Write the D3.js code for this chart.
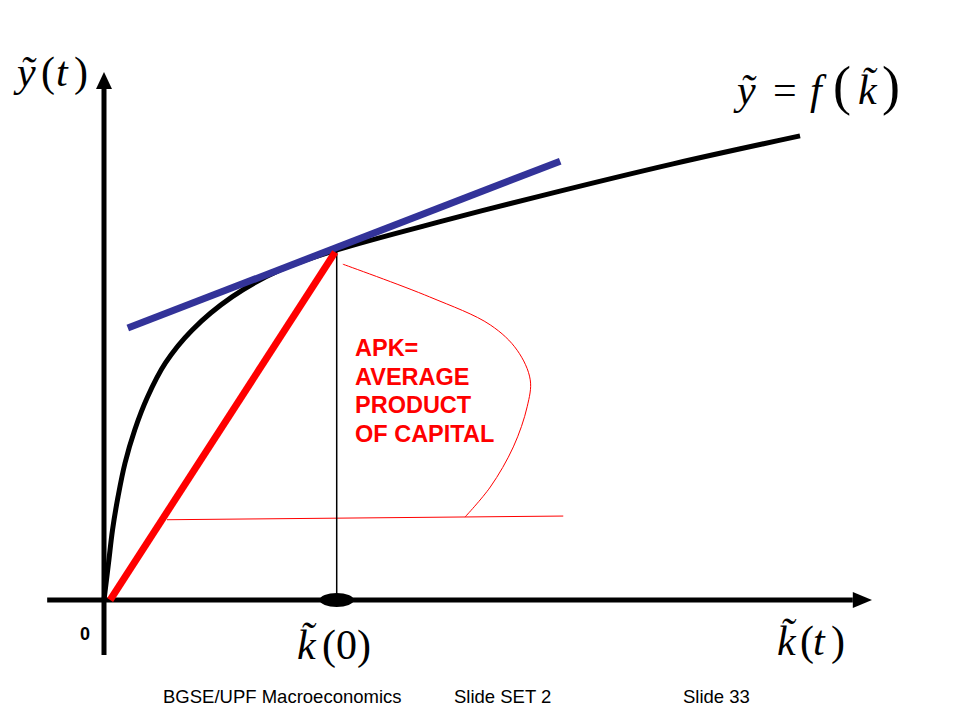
<!DOCTYPE html>
<html><head><meta charset="utf-8">
<script src="https://cdn.jsdelivr.net/npm/d3@7"></script>
<style>body{margin:0;background:#fff}svg{display:block}</style>
</head><body>
<svg id="chart" width="960" height="720"></svg>
<script>
// ---- data (units: k on x, y on y; both 0..10) ----
const prodK = [0.0, 0.059, 0.111, 0.182, 0.273, 0.40, 0.565, 0.80, 1.146, 1.667, 2.292, 3.034, 4.414, 5.677, 7.409, 9.063];
const prodY = [0.0, 0.70, 1.33, 1.95, 2.59, 3.22, 3.84, 4.49, 5.11, 5.74, 6.25, 6.63, 7.18, 7.65, 8.26, 8.79];
const tangentK = [0.31, 5.94];
const tangentY = [5.15, 8.31];
const rayK = [0.08, 3.01];
const rayY = [0.0, 6.59];
const k0 = 3.03;
const k0Top = 6.7;
const braceK = [3.11, 4.24, 5.03, 5.38, 5.55, 5.51, 5.33, 5.03, 4.70];
const braceY = [6.36, 5.74, 5.21, 4.73, 4.17, 3.66, 2.90, 2.14, 1.57];
const baseLineK = [0.82, 5.98];
const baseLineY = [1.52, 1.59];
const apkLines = ["APK=", "AVERAGE", "PRODUCT", "OF CAPITAL"];
const footer = ["BGSE/UPF Macroeconomics", "Slide SET 2", "Slide 33"];

const svg = d3.select("#chart");
const x = d3.scaleLinear().domain([0, 10]).range([104, 872]);
const y = d3.scaleLinear().domain([0, 10]).range([600, 72]);

const zip = (a, b) => a.map((v, i) => [v, b[i]]);
const straight = d3.line().x(d => x(d[0])).y(d => y(d[1]));

// axes
svg.append("line").attr("x1", x(-0.74)).attr("x2", x(9.75)).attr("y1", y(0)).attr("y2", y(0))
  .attr("stroke", "#000").attr("stroke-width", 5);
svg.append("path").attr("d", `M${x(10)},${y(0)} L${x(9.75)},${y(0)-8} L${x(9.75)},${y(0)+8} Z`).attr("fill", "#000");
svg.append("line").attr("x1", x(0)).attr("x2", x(0)).attr("y1", y(-1.04)).attr("y2", y(9.7))
  .attr("stroke", "#000").attr("stroke-width", 5);
svg.append("path").attr("d", `M${x(0)},${y(10)} L${x(0)-8},${y(9.68)} L${x(0)+8},${y(9.68)} Z`).attr("fill", "#000");

// thin red annotation lines
svg.append("path").attr("d", d3.line().x(d => x(d[0])).y(d => y(d[1])).curve(d3.curveCatmullRom)(zip(braceK, braceY)))
  .attr("fill", "none").attr("stroke", "#ff0000").attr("stroke-width", 1);
svg.append("path").attr("d", straight(zip(baseLineK, baseLineY)))
  .attr("fill", "none").attr("stroke", "#ff0000").attr("stroke-width", 1);

// vertical at k0
svg.append("line").attr("x1", x(k0)).attr("x2", x(k0)).attr("y1", y(k0Top)).attr("y2", y(0))
  .attr("stroke", "#000").attr("stroke-width", 1.5);
svg.append("ellipse").attr("cx", x(k0)).attr("cy", y(0)).attr("rx", 17).attr("ry", 7).attr("fill", "#000");

// production function
svg.append("path").attr("d", d3.line().x(d => x(d[0])).y(d => y(d[1])).curve(d3.curveCatmullRom.alpha(0.5))(zip(prodK, prodY)))
  .attr("fill", "none").attr("stroke", "#000").attr("stroke-width", 5).attr("stroke-linecap", "butt");

// tangent
svg.append("path").attr("d", straight(zip(tangentK, tangentY)))
  .attr("stroke", "#333399").attr("stroke-width", 7);
// ray
svg.append("path").attr("d", straight(zip(rayK, rayY)))
  .attr("stroke", "#ff0000").attr("stroke-width", 7);

// APK text
const apk = svg.append("text")
  .attr("font-family", "Liberation Sans, Arial, sans-serif").attr("font-weight", "bold")
  .attr("font-size", 23.5).attr("fill", "#ff0000");
apkLines.forEach((s, i) => apk.append("tspan").attr("x", 355).attr("y", 356 + i * 28.7).text(s));

// zero label
svg.append("text").attr("x", 80).attr("y", 640).attr("font-family", "Liberation Sans, Arial, sans-serif")
  .attr("font-weight", "bold").attr("font-size", 18).text("0");

// math labels: each part [text, italic, x, size]
const serif = "Liberation Serif, Times New Roman, serif";
function t(yp, parts, size) {
  const el = svg.append("text").attr("y", yp).attr("font-family", serif).attr("font-size", size);
  parts.forEach(p => el.append("tspan").attr("x", p[2]).attr("font-style", p[1] ? "italic" : "normal")
    .attr("font-size", p[3] || size).text(p[0]));
  return el;
}
t(86, [["\u1EF9", 1, 17], ["(", 0, 41], ["t", 1, 56], [")", 0, 74]], 42);
t(104, [["\u1EF9", 1, 737], ["=", 0, 773], ["f", 1, 810], ["(", 0, 833, 54], ["k\u0303", 1, 858], [")", 0, 882, 54]], 42);
t(659, [["k\u0303", 1, 297], ["(0)", 0, 322]], 42);
t(655, [["k\u0303", 1, 777], ["(", 0, 800], ["t", 1, 813], [")", 0, 831]], 42);

// footer
const fx = [163, 454, 683];
footer.forEach((s, i) => svg.append("text").attr("x", fx[i]).attr("y", 703)
  .attr("font-family", "Liberation Sans, Arial, sans-serif").attr("font-size", 18.5).text(s));
</script>
</body></html>
